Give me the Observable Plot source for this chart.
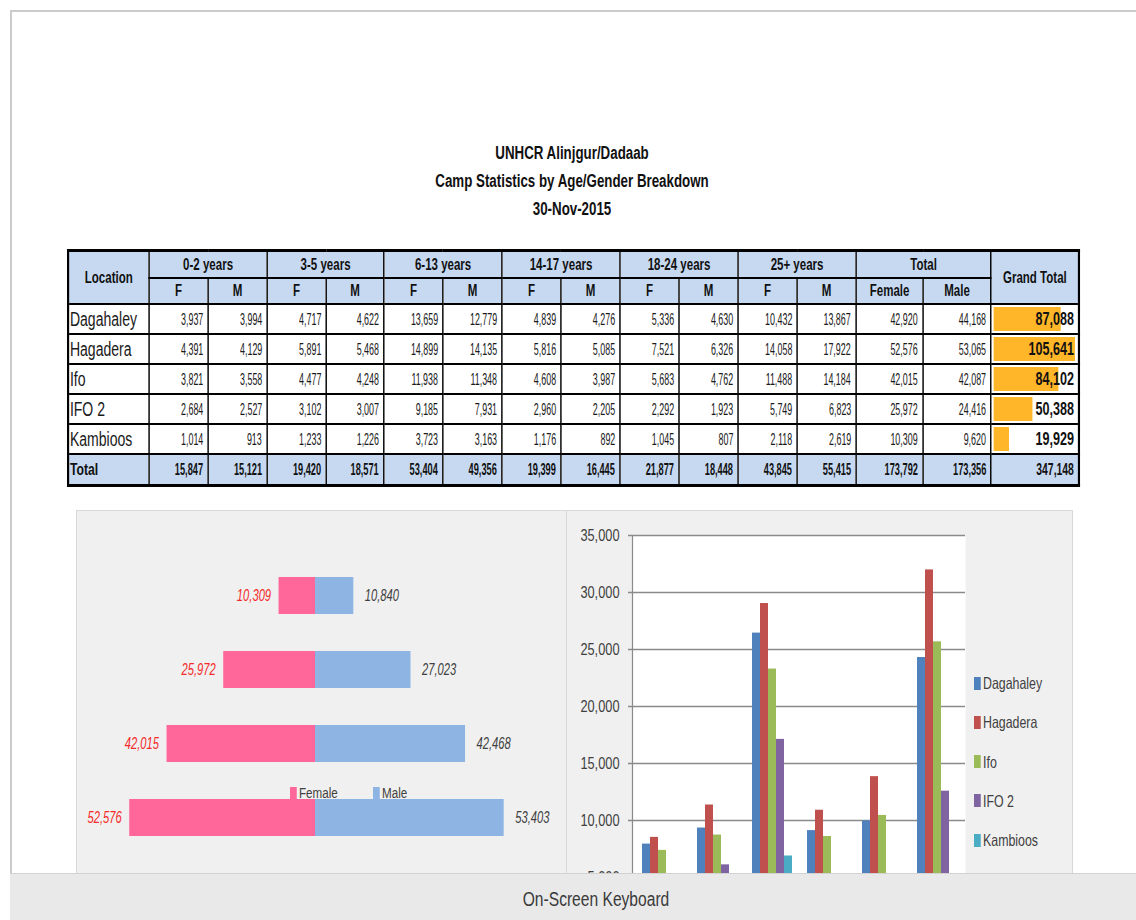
<!DOCTYPE html>
<html>
<head>
<meta charset="utf-8">
<script src="https://cdn.jsdelivr.net/npm/d3@7"></script>
<script src="https://cdn.jsdelivr.net/npm/@observablehq/plot@0.6"></script>
<style>
  html, body { margin: 0; padding: 0; }
  body { width: 1136px; height: 920px; position: relative; overflow: hidden; background: #fff;
         font-family: "Liberation Sans", Arial, sans-serif; color: #222; }
  .abs { position: absolute; }
  #frame { left: 10px; top: 10px; width: 1126px; height: 900px; border-top: 2px solid #cbcbcb; border-left: 2px solid #cbcbcb; }
  #title { left: 0; top: 139px; width: 1144px; text-align: center; font-weight: bold; font-size: 18px; line-height: 28px; color: #111;
           transform: scaleX(0.74); transform-origin: 572px 0; }
  #tableWrap { left: 67px; top: 249px; transform: scaleX(0.72); transform-origin: 0 0; }
  table { border-collapse: collapse; table-layout: fixed; border: 3px solid #000; }
  td, th { border: 2px solid #000; padding: 0; overflow: hidden; white-space: nowrap; }
  th { background: #c6d9f1; font-weight: bold; font-size: 16px; color: #111; }
  tr.h1 th { height: 25px; }
  tr.h2 th { height: 24px; }
  tr.d td { height: 28px; font-size: 16.5px; text-align: right; padding-right: 6px; background: #fff; color: #1a1a1a; }
  tr.d td.loc { text-align: left; font-size: 19.5px; padding-left: 1px; padding-right: 0; }
  tr.d td.gt { padding: 0; }
  tr.t td { height: 29px; background: #c6d9f1; font-weight: bold; font-size: 16px; text-align: right; padding-right: 6px; color: #111; }
  tr.t td.loc { text-align: left; padding-left: 1px; font-size: 17px; }
  tr.t td.last { font-size: 17px; }
  span.n { display: inline-block; transform: scaleX(0.75); transform-origin: 100% 50%; }
  tr.t span.n { transform: scaleX(0.8); }
  tr.t td.last span.n { transform: scaleX(0.85); }
  .panel { background: #f0f0f0; border: 1px solid #d8d8d8; box-sizing: border-box; }
  #leftPanel { left: 76px; top: 510px; width: 491px; height: 380px; }
  #rightPanel { left: 566px; top: 510px; width: 507px; height: 380px; }
  #leftPlot { left: 76px; top: 511px; width: 490px; height: 362px; overflow: hidden; }
  #rightPlot { left: 566px; top: 511px; width: 506px; height: 362px; overflow: hidden; }
  #rightPlot svg { position: absolute; left: 0; top: 0; }
  .lg { color: #404040; line-height: 16px; display: flex; align-items: center; transform-origin: 0 50%; white-space: nowrap; }
  .sw { display: inline-block; width: 9px; height: 13px; margin-right: 3px; }
  #kbd { left: 10px; top: 873px; width: 1126px; height: 47px; background: #e9e9e9; border-top: 1px solid #d2d2d2; }
  #kbd span { position: absolute; left: 0; width: 1080px; padding-left: 46px; top: 14px; text-align: center; font-size: 20px; line-height: 22px; color: #3a3a3a;
              transform: scaleX(0.78); transform-origin: 586px 0; }
  #rightPlot [aria-label="y-axis tick"] path { stroke: #8a8a8a; stroke-width: 1.5; }
</style>
</head>
<body>
<div id="frame" class="abs"></div>
<div id="title" class="abs">UNHCR Alinjgur/Dadaab<br>Camp Statistics by Age/Gender Breakdown<br>30-Nov-2015</div>
<div id="tableWrap" class="abs"></div>
<div id="leftPanel" class="abs panel"></div>
<div id="rightPanel" class="abs panel"></div>
<div id="leftPlot" class="abs"></div>
<div id="rightPlot" class="abs"></div>
<div id="leftLegend"></div>
<div id="rightLegend"></div>
<div id="kbd" class="abs"><span>On-Screen Keyboard</span></div>

<script>
// ---------------- data ----------------
const camps = ["Dagahaley", "Hagadera", "Ifo", "IFO 2", "Kambioos"];
const ageGroups = ["0-2 years", "3-5 years", "6-13 years", "14-17 years", "18-24 years", "25+ years"];
// female counts per camp, by age group
const dagahaleyF = [3937, 4717, 13659, 4839, 5336, 10432];
const hagaderaF  = [4391, 5891, 14899, 5816, 7521, 14058];
const ifoF       = [3821, 4477, 11938, 4608, 5683, 11488];
const ifo2F      = [2684, 3102, 9185, 2960, 2292, 5749];
const kambioosF  = [1014, 1233, 3723, 1176, 1045, 2118];
// male counts per camp, by age group
const dagahaleyM = [3994, 4622, 12779, 4276, 4630, 13867];
const hagaderaM  = [4129, 5468, 14135, 5085, 6326, 17922];
const ifoM       = [3558, 4248, 11348, 3987, 4762, 14184];
const ifo2M      = [2527, 3007, 7931, 2205, 1923, 6823];
const kambioosM  = [913, 1226, 3163, 892, 807, 2619];

const femaleRows = [dagahaleyF, hagaderaF, ifoF, ifo2F, kambioosF];
const maleRows = [dagahaleyM, hagaderaM, ifoM, ifo2M, kambioosM];

// pyramid chart (as shown)
const pyramidCats = ["Kambioos", "IFO 2", "Ifo", "Hagadera"];
const pyramidFemale = [10309, 25972, 42015, 52576];
const pyramidMale = [10840, 27023, 42468, 53403];

// bar chart y ticks (visible part of the axis)
const yTicks = [5000, 10000, 15000, 20000, 25000, 30000, 35000];
const campColors = ["#4f81bd", "#c0504d", "#9bbb59", "#8064a2", "#4bacc6"];

const fmt = d3.format(",");
const FONT = '"Liberation Sans", Arial, sans-serif';

// squash SVG texts horizontally around their anchor (narrow face look)
function squash(svg, k) {
  svg.querySelectorAll("text").forEach(t => {
    const x = parseFloat(t.getAttribute("x")) || 0;
    const y = parseFloat(t.getAttribute("y")) || 0;
    const tr = t.getAttribute("transform") || "";
    t.setAttribute("transform", `${tr} translate(${x},${y}) scale(${k},1) translate(${-x},${-y})`);
  });
}

// ---------------- table ----------------
const K = 0.72; // horizontal squash of the table
const femaleTotals = femaleRows.map(r => d3.sum(r));
const maleTotals = maleRows.map(r => d3.sum(r));
const grandTotals = camps.map((c, i) => femaleTotals[i] + maleTotals[i]);
const colF = ageGroups.map((a, j) => d3.sum(femaleRows, r => r[j]));
const colM = ageGroups.map((a, j) => d3.sum(maleRows, r => r[j]));

const table = document.createElement("table");
const colWidths = [81, 59, 59, 59, 58, 59, 59, 59, 59, 59, 59, 59, 59, 67, 68, 88].map(w => w / K);
table.style.width = d3.sum(colWidths) + "px";
const cg = document.createElement("colgroup");
colWidths.forEach(w => { const c = document.createElement("col"); c.style.width = w + "px"; cg.appendChild(c); });
table.appendChild(cg);

const n = v => `<span class="n">${fmt(v)}</span>`;
let html = '<tr class="h1"><th rowspan="2">Location</th>';
ageGroups.forEach(a => html += `<th colspan="2">${a}</th>`);
html += '<th colspan="2">Total</th><th rowspan="2">Grand Total</th></tr>';
html += '<tr class="h2">';
ageGroups.forEach(() => html += '<th>F</th><th>M</th>');
html += '<th>Female</th><th>Male</th></tr>';
camps.forEach((c, i) => {
  html += `<tr class="d"><td class="loc">${c}</td>`;
  ageGroups.forEach((a, j) => html += `<td>${n(femaleRows[i][j])}</td><td>${n(maleRows[i][j])}</td>`);
  html += `<td>${n(femaleTotals[i])}</td><td>${n(maleTotals[i])}</td><td class="gt" id="gt${i}"></td></tr>`;
});
html += '<tr class="t"><td class="loc">Total</td>';
ageGroups.forEach((a, j) => html += `<td>${n(colF[j])}</td><td>${n(colM[j])}</td>`);
html += `<td>${n(d3.sum(femaleTotals))}</td><td>${n(d3.sum(maleTotals))}</td><td class="last">${n(d3.sum(grandTotals))}</td></tr>`;
table.insertAdjacentHTML("beforeend", html);
document.getElementById("tableWrap").appendChild(table);

// grand total data bars (drawn inside the squashed table)
const gtMax = d3.max(grandTotals);
const gtW = Math.round(88 / K) - 3;
grandTotals.forEach((v, i) => {
  const p = Plot.plot({
    width: gtW, height: 28, margin: 0,
    style: { background: "transparent", fontFamily: FONT, overflow: "visible" },
    x: { domain: [0, gtMax], range: [3, gtW - 3], axis: null },
    marks: [
      Plot.barX([v], { x: d => d, fill: "#ffb628", insetTop: 2, insetBottom: 2 }),
      Plot.text([v], { text: d => fmt(d), frameAnchor: "right", dx: -5, fontWeight: "bold", fontSize: 17.5, fill: "#111" })
    ]
  });
  p.style.display = "block";
  document.getElementById("gt" + i).appendChild(p);
});

// ---------------- left: pyramid ----------------
const fData = pyramidCats.map((c, i) => ({ cat: c, value: pyramidFemale[i] }));
const mData = pyramidCats.map((c, i) => ({ cat: c, value: pyramidMale[i] }));
const left = Plot.plot({
  width: 490, height: 363,
  marginLeft: 27, marginRight: 39, marginTop: 28, marginBottom: 0,
  style: { background: "transparent", fontFamily: FONT },
  x: { domain: [-60000, 60000], axis: null },
  y: { domain: pyramidCats, axis: null, padding: 0.5 },
  marks: [
    Plot.barX(fData, { x: d => -d.value, y: "cat", fill: "#ff6699" }),
    Plot.barX(mData, { x: "value", y: "cat", fill: "#8db4e2" }),
    Plot.text(fData, { x: d => -d.value, y: "cat", text: d => fmt(d.value), textAnchor: "end", dx: -8,
                       fill: "#f42a2a", fontStyle: "italic", fontSize: 16 }),
    Plot.text(mData, { x: "value", y: "cat", text: d => fmt(d.value), textAnchor: "start", dx: 11,
                       fill: "#404040", fontStyle: "italic", fontSize: 16 })
  ]
});
squash(left, 0.7);
document.getElementById("leftPlot").appendChild(left);

const ll = document.getElementById("leftLegend");
[["Female", "#ff6699", 290], ["Male", "#8db4e2", 373]].forEach(([t, c, x]) => {
  ll.insertAdjacentHTML("beforeend",
    `<div class="abs lg" style="left:${x}px;top:785px;font-size:15.5px;transform:scaleX(0.75)"><span class="sw" style="background:${c}"></span>${t}</div>`);
});

// ---------------- right: grouped bars ----------------
const barData = [];
ageGroups.forEach((a, j) => camps.forEach((c, i) => barData.push({ age: a, camp: c, value: femaleRows[i][j] + maleRows[i][j] })));

const common = { width: 506, height: 453, marginLeft: 66, marginRight: 107, marginTop: 24, marginBottom: 30 };
const base = Plot.plot({
  ...common,
  style: { background: "transparent", fontFamily: FONT, fontSize: "16px", color: "#404040" },
  x: { domain: [0, 1], axis: null },
  y: { domain: [0, 35000], ticks: yTicks, tickFormat: fmt, tickSize: 4, tickPadding: 9, label: null },
  marks: [
    Plot.frame({ fill: "#fff", stroke: null }),
    Plot.ruleY(yTicks, { stroke: "#8a8a8a", strokeWidth: 1.5 }),
    Plot.ruleX([0], { stroke: "#8a8a8a", strokeWidth: 1.2 })
  ]
});
squash(base, 0.8);
const bars = Plot.plot({
  ...common,
  style: { background: "transparent", fontFamily: FONT },
  fx: { domain: ageGroups, padding: 0, axis: null },
  x: { domain: camps, paddingInner: 0, paddingOuter: 0.8, axis: null },
  y: { domain: [0, 35000], axis: null },
  color: { domain: camps, range: campColors },
  marks: [
    Plot.barY(barData, { fx: "age", x: "camp", y: "value", fill: "camp" })
  ]
});
document.getElementById("rightPlot").appendChild(base);
document.getElementById("rightPlot").appendChild(bars);

const rl = document.getElementById("rightLegend");
camps.forEach((c, i) => {
  rl.insertAdjacentHTML("beforeend",
    `<div class="abs lg" style="left:974px;top:${675 + i * 39.3}px;font-size:16.5px;transform:scaleX(0.75)"><span class="sw" style="background:${campColors[i]}"></span>${c}</div>`);
});
</script>
</body>
</html>
